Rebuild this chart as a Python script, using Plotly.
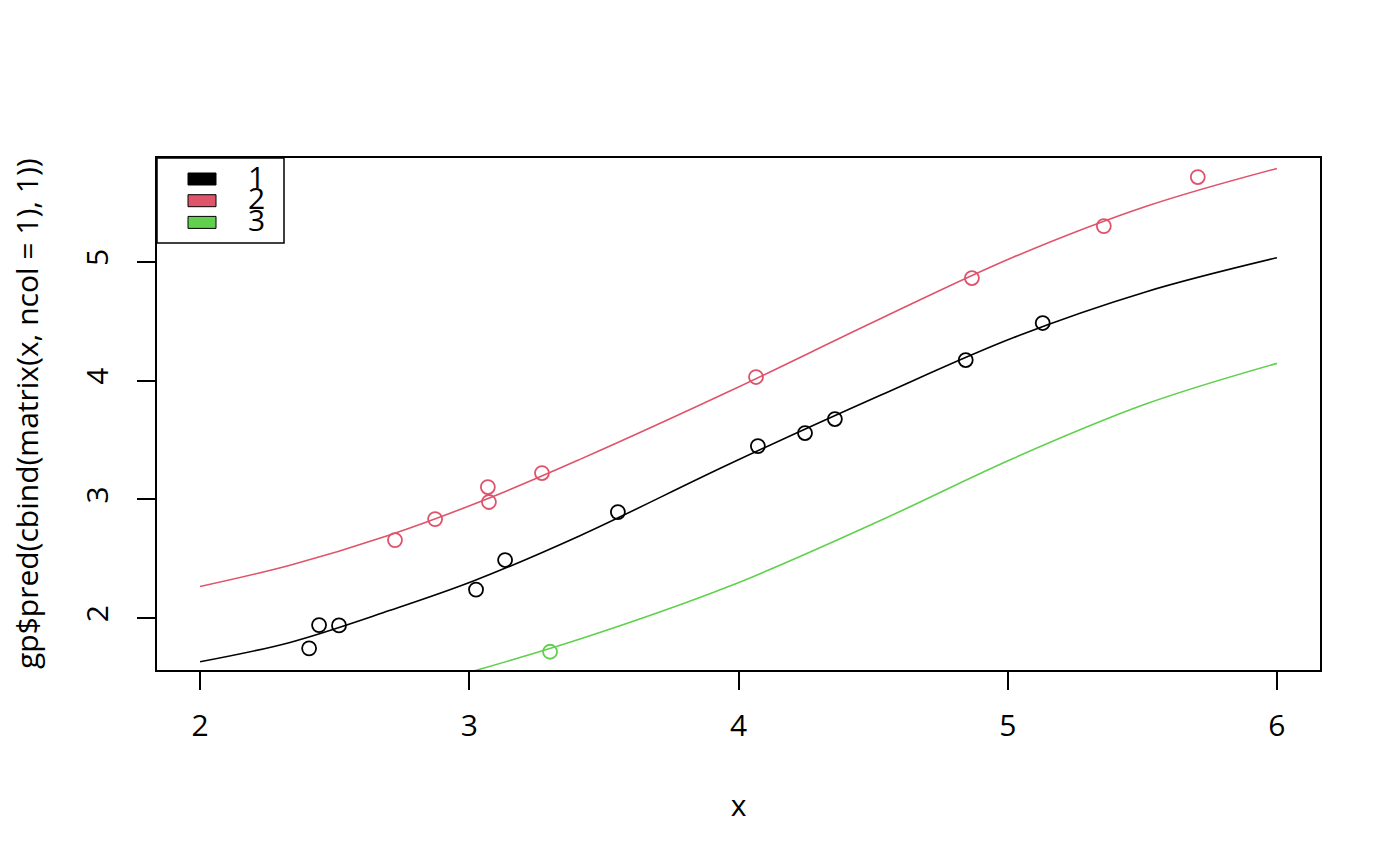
import plotly.graph_objects as go

# observed points, one list per group
x1 = [2.405, 2.442, 2.516, 3.025, 3.133, 3.552, 4.072, 4.247, 4.358, 4.844, 5.130]
y1 = [1.745, 1.941, 1.938, 2.240, 2.489, 2.893, 3.449, 3.559, 3.677, 4.174, 4.486]
x2 = [2.724, 2.873, 3.069, 3.073, 3.270, 4.065, 4.867, 5.357, 5.706]
y2 = [2.657, 2.834, 3.104, 2.978, 3.222, 4.031, 4.865, 5.303, 5.716]
x3 = [3.300]
y3 = [1.716]

# predicted curves
cx1 = [2.0, 2.334, 2.706, 3.015, 3.411, 3.968, 4.525, 5.020, 5.515, 6.0]
cy1 = [1.632, 1.795, 2.065, 2.312, 2.694, 3.300, 3.875, 4.362, 4.750, 5.036]
cx2 = [2.0, 2.334, 2.693, 3.077, 3.411, 3.968, 4.525, 5.020, 5.515, 6.0]
cy2 = [2.266, 2.445, 2.691, 3.014, 3.337, 3.913, 4.520, 5.040, 5.470, 5.789]
cx3 = [3.015, 3.411, 3.968, 4.525, 5.020, 5.515, 6.0]
cy3 = [1.553, 1.823, 2.270, 2.820, 3.345, 3.805, 4.146]

groups = ["1", "2", "3"]
colors = ["#000000", "#DF536B", "#61D04F"]

x_ticks = [2, 3, 4, 5, 6]
y_ticks = [2, 3, 4, 5]

font = "Open Sans"
fs = 30

fig = go.Figure()

pts = [(x1, y1), (x2, y2), (x3, y3)]
curves = [(cx1, cy1), (cx2, cy2), (cx3, cy3)]
for (px, py), (lx, ly), col in zip(pts, curves, colors):
    fig.add_trace(go.Scatter(x=px, y=py, mode='markers',
                             marker=dict(symbol='circle-open', size=14,
                                         color=col, line=dict(width=1.8, color=col)),
                             showlegend=False, hoverinfo='x+y'))
    fig.add_trace(go.Scatter(x=lx, y=ly, mode='lines',
                             line=dict(color=col, width=1.6, shape='spline', smoothing=1.0),
                             showlegend=False, hoverinfo='x+y'))

# plot area in pixels (R style box); page body adds ~8px offset
W, H = 1400, 866
L, R, T, B = 149, 88, 150, 204
pw, ph = W - L - R, H - T - B

def px2paper(xp, yp):
    # xp, yp measured relative to the plot box's top-left corner
    return xp / pw, 1 - yp / ph

# R-style legend in the top-left corner
bx1, by1 = px2paper(127, 85)
fig.add_shape(type='rect', xref='paper', yref='paper', x0=0, y0=by1, x1=bx1, y1=1,
              line=dict(color='black', width=1.5), fillcolor='white', layer='above')
for i, (g, col) in enumerate(zip(groups, colors)):
    top = 15 + i * 21.7
    kx0, ky0 = px2paper(31, top)
    kx1, ky1 = px2paper(59, top + 12)
    fig.add_shape(type='rect', xref='paper', yref='paper', x0=kx0, y0=ky1, x1=kx1, y1=ky0,
                  line=dict(color='black', width=1), fillcolor=col, layer='above')
    tx, ty = px2paper(99, top + 3)
    fig.add_annotation(x=tx, y=ty, xref='paper', yref='paper', text=g, showarrow=False,
                       xanchor='center', yanchor='middle',
                       font=dict(family=font, size=fs, color='black'))

# y axis title as annotation so it can sit further out than the margin allows
ylab_x, _ = px2paper(-131, 0)
fig.add_annotation(x=ylab_x, y=0.5, xref='paper', yref='paper',
                   text='gp$pred(cbind(matrix(x, ncol = 1), 1))', textangle=-90,
                   showarrow=False, xanchor='center', yanchor='middle',
                   font=dict(family=font, size=fs, color='black'))

axis_common = dict(showgrid=False, zeroline=False, showline=True, mirror=True,
                   linecolor='black', linewidth=1.5, ticks='outside', ticklen=18,
                   tickwidth=1.5, tickcolor='black', automargin=False,
                   tickfont=dict(family=font, size=fs, color='black'))

fig.update_layout(
    width=W, height=H,
    margin=dict(l=L, r=R, t=T, b=B),
    paper_bgcolor='white', plot_bgcolor='white',
    showlegend=False,
    xaxis=dict(range=[1.84, 6.16], tickvals=x_ticks, ticklabelstandoff=10,
               title=dict(text='x', font=dict(family=font, size=fs, color='black'), standoff=51),
               **axis_common),
    yaxis=dict(range=[1.5624, 5.8766], tickvals=y_ticks, tickangle=-90, ticklabelstandoff=17,
               **axis_common),
)

fig.write_html("out.html")
